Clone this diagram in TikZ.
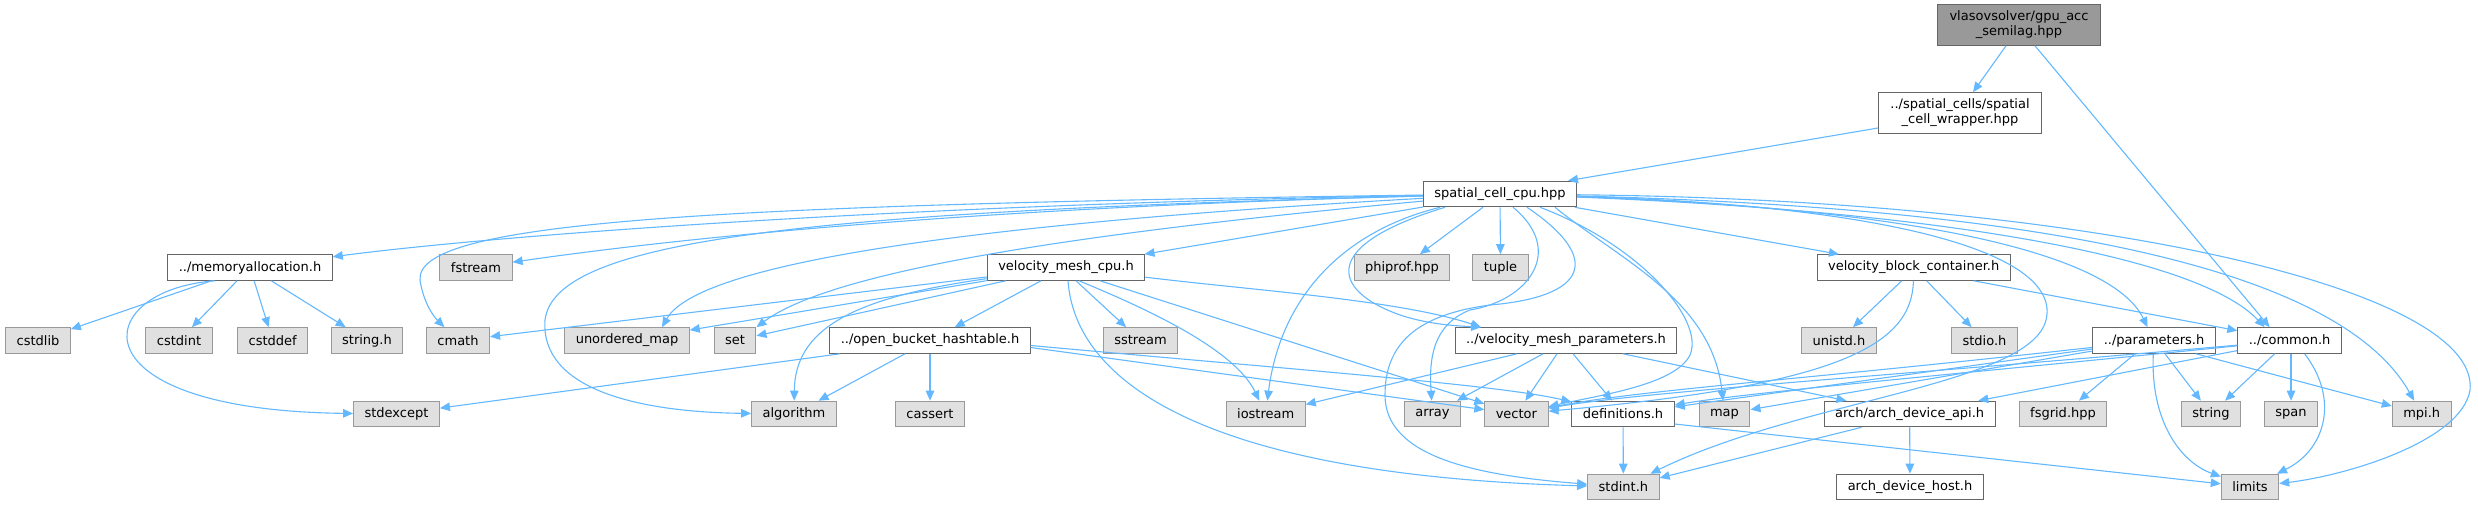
\documentclass[tikz,border=0pt]{standalone}
\usepackage{fontspec}
\setmainfont{DejaVu Sans}
\usetikzlibrary{arrows.meta}
\definecolor{edgeblue}{HTML}{63B8FF}
\definecolor{extfill}{HTML}{E0E0E0}
\definecolor{extline}{HTML}{999999}
\definecolor{projline}{HTML}{666666}
\definecolor{mainfill}{HTML}{999999}
\begin{document}
\begin{tikzpicture}[x=1pt, y=-1pt,
  box/.style={shape=rectangle, line width=1pt, inner xsep=11pt, inner ysep=0pt,
    minimum height=25.6pt, font=\fontsize{13}{15}\selectfont},
  ext/.style={box, draw=extline, fill=extfill},
  proj/.style={box, draw=projline, fill=white},
  twoline/.style={align=center, minimum width=163pt, minimum height=40.6pt},
  mainfile/.style={box, twoline, draw=projline, fill=mainfill},
  inc/.style={draw=edgeblue, line width=1.1pt, -{Triangle[length=10pt, width=8.5pt]}}]
  \useasboundingbox (0,0) rectangle (2478,505);

  % files of the project
  \node (gpu) at (2019,25) [mainfile] {vlasovsolver/gpu\_acc\\\_semilag.hpp};
  \node (wrap) at (1960,113) [proj, twoline] {../spatial\_cells/spatial\\\_cell\_wrapper.hpp};
  \node (scc) at (1500,194) [proj] {spatial\_cell\_cpu.hpp};
  \node (memalloc) at (250,267.5) [proj] {../memoryallocation.h};
  \node (fstream) at (476,267.5) [ext] {fstream};
  \node (vmcpu) at (1066,267.5) [proj] {velocity\_mesh\_cpu.h};
  \node (phiprof) at (1402,267.5) [ext] {phiprof.hpp};
  \node (tuple) at (1500.5,267.5) [ext] {tuple};
  \node (vbc) at (1913.7,267.5) [proj] {velocity\_block\_container.h};

  \node (cstdlib) at (38,340.5) [ext] {cstdlib};
  \node (cstdint) at (179,340.5) [ext] {cstdint};
  \node (cstddef) at (272.7,340.5) [ext] {cstddef};
  \node (stringh) at (367,340.5) [ext] {string.h};
  \node (cmath) at (458,340.5) [ext] {cmath};
  \node (umap) at (627,340.5) [ext] {unordered\_map};
  \node (set) at (735,340.5) [ext] {set};
  \node (obh) at (930,340.5) [proj] {../open\_bucket\_hashtable.h};
  \node (sstream) at (1140.5,340.5) [ext] {sstream};
  \node (vmpar) at (1566,340.5) [proj] {../velocity\_mesh\_parameters.h};
  \node (unistd) at (1839,340.5) [ext] {unistd.h};
  \node (stdio) at (1984.5,340.5) [ext] {stdio.h};
  \node (params) at (2154,340.5) [proj] {../parameters.h};
  \node (common) at (2289.6,340.5) [proj] {../common.h};

  \node (stdexcept) at (396.5,414) [ext] {stdexcept};
  \node (algorithm) at (794,414) [ext] {algorithm};
  \node (cassert) at (930,414) [ext] {cassert};
  \node (iostream) at (1265.7,414) [ext] {iostream};
  \node (array) at (1432.5,414) [ext] {array};
  \node (vector) at (1516.4,414) [ext] {vector};
  \node (defs) at (1623,414) [proj] {definitions.h};
  \node (map) at (1724.5,414) [ext] {map};
  \node (archapi) at (1909.6,414) [proj] {arch/arch\_device\_api.h};
  \node (fsgrid) at (2063,414) [ext] {fsgrid.hpp};
  \node (string) at (2211,414) [ext] {string};
  \node (span) at (2291,414) [ext] {span};
  \node (mpi) at (2421.7,414) [ext] {mpi.h};

  \node (stdint) at (1623.4,487) [ext] {stdint.h};
  \node (archhost) at (1910,487) [proj] {arch\_device\_host.h};
  \node (limits) at (2250,487) [ext] {limits};

  % includes
  \draw[inc] ([xshift=-13pt]gpu.south) -- ([xshift=13pt]wrap.north);
  \draw[inc] ([xshift=16pt]gpu.south) -- ([xshift=-20pt]common.north);
  \draw[inc] ([yshift=-15pt]wrap.west) -- ([xshift=68pt]scc.north);

  \draw[inc] (scc) .. controls (900,205) and (500,235) .. (memalloc);
  \draw[inc] (scc) .. controls (1000,207) and (700,235) .. (fstream);
  \draw[inc] (scc) .. controls (700,205) and (415,222) .. (420,280) .. controls (423,300) and (432,315) .. (cmath);
  \draw[inc] (scc) .. controls (1000,222) and (700,260) .. ([xshift=35pt]umap.north);
  \draw[inc] (scc) .. controls (1000,240) and (820,280) .. (set.north east);
  \draw[inc] (scc) .. controls (800,212) and (555,240) .. (545,320) .. controls (540,390) and (640,412) .. (algorithm);
  \draw[inc] (scc) -- (vmcpu);
  \draw[inc] ([xshift=-60pt]scc.south) .. controls (1340,232) and (1280,300) .. (iostream);
  \draw[inc] ([xshift=-55pt]scc.south) .. controls (1320,245) and (1330,290) .. (1400,315) .. controls (1430,325) and (1460,326) .. ([xshift=-85pt]vmpar.north);
  \draw[inc] ([xshift=-17pt]scc.south) -- (phiprof);
  \draw[inc] (scc) -- (tuple);
  \draw[inc] ([xshift=13pt]scc.south) .. controls (1565,250) and (1530,300) .. (1470,310) .. controls (1432,325) and (1429,360) .. (array);
  \draw[inc] ([xshift=27pt]scc.south) .. controls (1605,260) and (1585,297) .. (1490,305) .. controls (1415,315) and (1385,345) .. (1385,395) .. controls (1385,455) and (1470,475) .. (stdint);
  \draw[inc] ([xshift=40pt]scc.south) .. controls (1640,245) and (1705,320) .. (1690,355) .. controls (1675,385) and (1600,395) .. (vector);
  \draw[inc] ([xshift=55pt]scc.south) .. controls (1620,260) and (1712,300) .. (map);
  \draw[inc] (scc) -- (vbc);
  \draw[inc] (scc) .. controls (1900,208) and (2110,250) .. (params);
  \draw[inc] (scc) .. controls (1950,212) and (2200,258) .. ([xshift=-25pt]common.north);
  \draw[inc] (scc) .. controls (2050,208) and (2340,270) .. (mpi);
  \draw[inc] (scc) .. controls (2100,200) and (2480,290) .. (2470,390) .. controls (2462,440) and (2350,475) .. (limits);
  \draw[inc] (scc) .. controls (1900,206) and (2062,255) .. (2046,320) .. controls (2030,385) and (1800,400) .. (stdint);

  \draw[inc] (memalloc) -- (cstdlib);
  \draw[inc] (memalloc) -- (cstdint);
  \draw[inc] (memalloc) -- (cstddef);
  \draw[inc] (memalloc) -- (stringh);
  \draw[inc] ([xshift=-35pt]memalloc.south) .. controls (90,290) and (70,410) .. (stdexcept);

  \draw[inc] (vmcpu) -- (cmath);
  \draw[inc] (vmcpu) -- (umap);
  \draw[inc] (vmcpu) -- (set);
  \draw[inc] (vmcpu) .. controls (850,298) and (795,330) .. (algorithm);
  \draw[inc] ([xshift=-25pt]vmcpu.south) -- (obh);
  \draw[inc] ([xshift=10pt]vmcpu.south) -- (sstream);
  \draw[inc] ([xshift=2pt]vmcpu.south) .. controls (1075,380) and (1200,475) .. (stdint);
  \draw[inc] ([xshift=13pt]vmcpu.south) .. controls (1150,310) and (1235,350) .. (iostream);
  \draw[inc] ([xshift=34pt]vmcpu.south) -- (vector);
  \draw[inc] (vmcpu) .. controls (1250,290) and (1400,300) .. ([xshift=-85pt]vmpar.north);

  \draw[inc] ([xshift=-12pt]vbc.south) -- (unistd);
  \draw[inc] ([xshift=13pt]vbc.south) -- (stdio);
  \draw[inc] ([xshift=60pt]vbc.south) -- (common);
  \draw[inc] (vbc) .. controls (1912,345) and (1840,385) .. (vector);

  \draw[inc] ([xshift=-90pt]obh.south) -- (stdexcept);
  \draw[inc] ([xshift=-25pt]obh.south) -- (algorithm);
  \draw[inc] (obh) -- (cassert);
  \draw[inc] ([yshift=-7pt]obh.east) -- (vector);
  \draw[inc] ([yshift=-5pt]obh.east) .. controls (1300,370) and (1500,385) .. (defs);

  \draw[inc] ([xshift=-49pt]vmpar.south) -- (iostream);
  \draw[inc] ([xshift=-23pt]vmpar.south) -- (array);
  \draw[inc] ([xshift=-9pt]vmpar.south) -- (vector);
  \draw[inc] ([xshift=7pt]vmpar.south) -- (defs);
  \draw[inc] ([xshift=57pt]vmpar.south) -- (archapi);

  \draw[inc] ([xshift=-19pt]params.south) -- (fsgrid);
  \draw[inc] ([xshift=11pt]params.south) -- (string);
  \draw[inc] (params) .. controls (2150,420) and (2180,462) .. (limits);
  \draw[inc] ([xshift=42pt]params.south) -- (mpi);
  \draw[inc] (params) .. controls (1800,380) and (1640,390) .. (vector);
  \draw[inc] (params) -- (defs);
  \draw[inc] (params) -- (map);

  \draw[inc] ([xshift=-15pt]common.south) -- (string);
  \draw[inc] ([xshift=1.4pt]common.south) -- (span);
  \draw[inc] ([xshift=15pt]common.south) .. controls (2340,400) and (2325,450) .. (limits);
  \draw[inc] (common) -- (archapi);
  \draw[inc] (common) .. controls (1900,375) and (1640,392) .. (vector);
  \draw[inc] (common) .. controls (2000,370) and (1750,392) .. (defs);

  \draw[inc] (defs) -- (stdint);
  \draw[inc] ([yshift=-10pt]defs.east) -- (limits);
  \draw[inc] ([xshift=-48pt]archapi.south) -- (stdint);
  \draw[inc] (archapi) -- (archhost);
\end{tikzpicture}
\end{document}
